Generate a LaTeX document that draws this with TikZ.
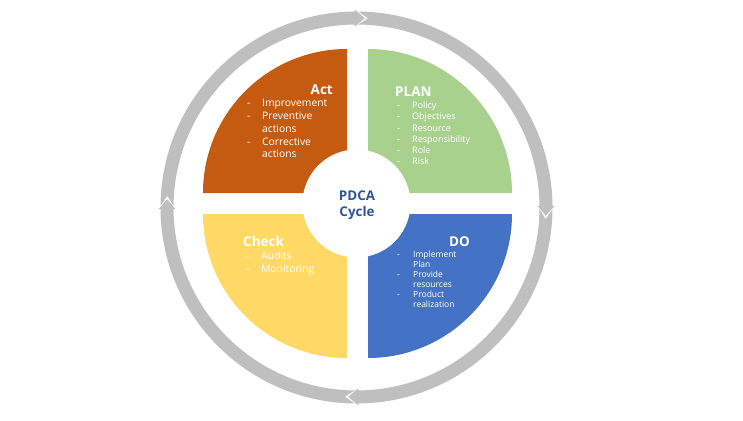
\documentclass[tikz,border=0pt]{standalone}
\usepackage{fontspec}
\setmainfont{Open Sans}
\definecolor{actorange}{HTML}{C55A11}
\definecolor{plangreen}{HTML}{A9D18E}
\definecolor{doblue}{HTML}{4472C4}
\definecolor{checkyellow}{HTML}{FFD966}
\definecolor{ringgrey}{HTML}{BFBFBF}
\definecolor{cycleblue}{HTML}{2F5597}
\tikzset{
  % quadrant titles and lists
  quadtitle/.style={inner sep=0pt,text=white,font=\fontsize{13.5}{15}\selectfont\bfseries},
  quadlist/.style={inner sep=0pt,text=white,anchor=base west},
  % centre label
  hubtext/.style={align=center,inner sep=0pt,text=cycleblue,font=\fontsize{13.4}{15.5}\selectfont\bfseries},
  % ring arrows
  ringarrow/.style={fill=ringgrey},
}
\newcommand{\dashlist}[2]{\begin{tabular}[t]{@{}p{#1}@{}l@{}}#2\end{tabular}}

\begin{document}
\begin{tikzpicture}[x=1pt,y=1pt]
\useasboundingbox[fill=white] (-357.5,-216.5) rectangle (385.5,203.5);
% quadrants
\fill[actorange] (-10.5,10.5) -- ++(0,144) arc[start angle=90,end angle=180,radius=144pt] -- cycle;
\fill[plangreen] (10.5,10.5) -- ++(144,0) arc[start angle=0,end angle=90,radius=144pt] -- cycle;
\fill[doblue] (10.5,-10.5) -- ++(0,-144) arc[start angle=-90,end angle=0,radius=144pt] -- cycle;
\fill[checkyellow] (-10.5,-10.5) -- ++(-144,0) arc[start angle=180,end angle=270,radius=144pt] -- cycle;
\fill[white] (-1,0) circle[radius=54pt];
% ring of four arrows
\begin{scope}[shift={(-1,-4)}]
\foreach \tip in {87.5,-2.5,-92.5,-182.5}{
  \pgfmathsetmacro{\tail}{\tip+92}
  \pgfmathsetmacro{\base}{\tip+3}
  \pgfmathsetmacro{\notch}{\tail-3}
  \fill[ringarrow] (\tail:196pt) arc[start angle=\tail,end angle=\base,radius=196pt]
    -- (\base:198pt) -- (\tip:189.5pt) -- (\base:181pt) -- (\base:183pt)
    arc[start angle=\base,end angle=\tail,radius=183pt] -- (\notch:189.5pt) -- cycle;
}
\end{scope}
% texts
\node[hubtext] (hub) at (-0.5,-2) {PDCA\\Cycle};
\node[quadtitle,anchor=base east] (acttitle) at (-24.5,108.7) {Act};
\node[quadlist,font=\fontsize{10.3}{12.7}\selectfont] (actlist) at (-110.5,96.5)
  {\dashlist{15pt}{- & Improvement\\ - & Preventive\\ & actions\\ - & Corrective\\ & actions}};
\node[quadtitle,anchor=base west] (plantitle) at (37.5,106.7) {PLAN};
\node[quadlist,font=\fontsize{9}{11.2}\selectfont] (planlist) at (39.5,94.8)
  {\dashlist{15pt}{- & Policy\\ - & Objectives\\ - & Resource\\ - & Responsibility\\ - & Role\\ - & Risk}};
\node[quadtitle,anchor=base west] (checktitle) at (-114.5,-43.3) {Check};
\node[quadlist,font=\fontsize{10.3}{13}\selectfont] (checklist) at (-111.5,-56.3)
  {\dashlist{15pt}{- & Audits\\ - & Monitoring}};
\node[quadtitle,anchor=base east] (dotitle) at (112.5,-43.3) {DO};
\node[quadlist,font=\fontsize{8.5}{10}\selectfont] (dolist) at (39.5,-54)
  {\dashlist{16pt}{- & Implement\\ & Plan\\ - & Provide\\ & resources\\ - & Product\\ & realization}};
\end{tikzpicture}
\end{document}
